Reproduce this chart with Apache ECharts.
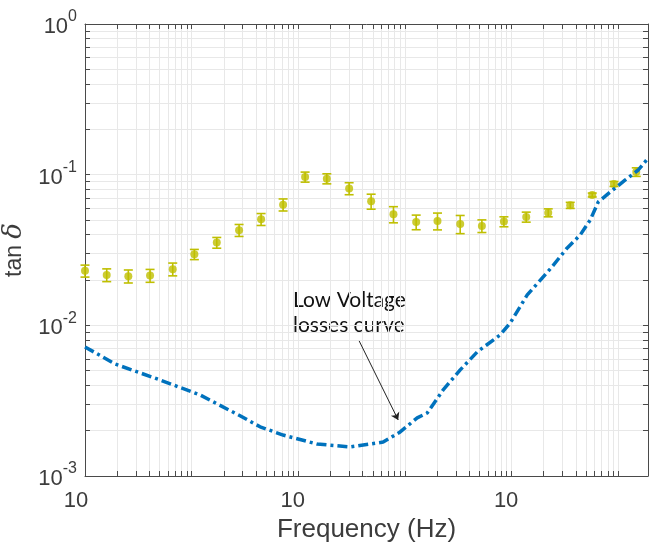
<!DOCTYPE html>
<html>
<head>
<meta charset="utf-8">
<script src="https://cdn.jsdelivr.net/npm/echarts@6/dist/echarts.min.js"></script>
<style>
html, body { margin: 0; padding: 0; background: #fff; }
#show { width: 649px; height: 550px; }
</style>
</head>
<body>
<div id="show"></div>
<script>
var myChart = echarts.init(document.getElementById('show'));

// measured tan delta (yellow dots) with error bars
var freq = [0.01, 0.01598, 0.02548, 0.04073, 0.06646, 0.1060, 0.1720, 0.2784, 0.4478, 0.7202,
    1.158, 1.851, 2.996, 4.818, 7.801, 12.74, 20.18, 32.95, 52.64, 84.68,
    137.1, 220.4, 354.5, 570.3, 911.3, 1475];
var tanDelta = [0.0230, 0.0216, 0.0212, 0.0214, 0.0236, 0.0296, 0.0354, 0.0428, 0.0506, 0.0632,
    0.0966, 0.0941, 0.0810, 0.0666, 0.0546, 0.0485, 0.0493, 0.0471, 0.0457, 0.0488,
    0.0524, 0.0559, 0.0626, 0.0733, 0.0868, 0.1042];
var tanDeltaErr = [0.0021, 0.0021, 0.0021, 0.0021, 0.0023, 0.0023, 0.0029, 0.0039, 0.0046, 0.0058,
    0.0074, 0.0072, 0.0074, 0.0076, 0.0067, 0.0054, 0.0063, 0.0065, 0.0044, 0.0037,
    0.0040, 0.0034, 0.0029, 0.0022, 0.0033, 0.0068];

// low voltage losses curve (blue dash-dot)
var lvFreq = [0.01, 0.01911, 0.05054, 0.1199, 0.2844, 0.4383, 0.7202, 1.501, 3.062, 6.246,
    9.017, 13.02, 16.16, 22.82, 32.95, 47.57, 78.19, 97.0, 140.1, 230.2,
    332.3, 440.0, 546.2, 649.2, 841.3, 1163, 1540, 1911];
var lvLoss = [0.00719, 0.00554, 0.00434, 0.00345, 0.00251, 0.00212, 0.00187, 0.00163, 0.00156, 0.00168,
    0.00196, 0.00243, 0.00262, 0.00373, 0.00506, 0.00666, 0.00864, 0.01037, 0.01591, 0.02367,
    0.03263, 0.03980, 0.05006, 0.06589, 0.07677, 0.09222, 0.1074, 0.1291];

var xMin = 0.01, xMax = 1900;
var yMin = 0.001, yMax = 1;

function logTicks(lo, hi, max) {
    var t = [];
    for (var e = lo; e < hi; e++) {
        for (var m = 1; m < 10; m++) t.push(+(m * Math.pow(10, e)).toPrecision(3));
    }
    t.push(Math.pow(10, hi));
    return t.filter(function (v) { return v <= max; });
}
var xTicks = logTicks(-2, 3, xMax);
var yTicks = logTicks(-3, 0, yMax);

var font = 'Liberation Sans, Helvetica, Arial, sans-serif';
var axisColor = '#4a4a4a';
var textColor = '#3c3c3c';
var dotColor = '#bfbf00';

function expOf(v) {
    var l = Math.log10(v), e = Math.round(l);
    return Math.abs(l - e) < 1e-6 ? e : null;
}

function makeX(idx) {
    var a = {
        type: 'log', logBase: 10, min: xMin, max: xMax, gridIndex: 0,
        position: idx === 1 ? 'top' : 'bottom',
        axisLine: { show: idx !== 2, onZero: false, lineStyle: { color: axisColor, width: 1 } },
        axisTick: { show: idx !== 2, inside: true, length: 5, customValues: xTicks, lineStyle: { color: axisColor } },
        axisLabel: { show: false },
        splitLine: { show: false }
    };
    if (idx === 0) {
        a.splitLine = { show: true, lineStyle: { color: '#e0e0e0', type: [2, 3], width: 1 } };
        a.axisLabel = {
            show: true, margin: 14, color: textColor, fontFamily: font, fontSize: 22,
            formatter: function (v) {
                var e = expOf(v);
                if (e === null || e % 2 !== 0) return '';
                return e < 0 ? '{w|10}' : '{n|10}';
            },
            rich: {
                w: { fontSize: 22, fontFamily: font, color: textColor, padding: [0, 18, 0, 0] },
                n: { fontSize: 22, fontFamily: font, color: textColor, padding: [0, 11, 0, 0] }
            }
        };
        a.name = 'Frequency (Hz)';
        a.nameLocation = 'middle';
        a.nameGap = 38;
        a.nameTextStyle = { color: textColor, fontFamily: font, fontSize: 26 };
    }
    if (idx === 2) {
        a.splitLine = { show: true, lineStyle: { color: '#e8e8e8', width: 1 } };
    }
    return a;
}

function makeY(idx) {
    var a = {
        type: 'log', logBase: 10, min: yMin, max: yMax, gridIndex: 0,
        position: idx === 1 ? 'right' : 'left',
        axisLine: { show: idx !== 2, onZero: false, lineStyle: { color: axisColor, width: 1 } },
        axisTick: { show: idx !== 2, inside: true, length: 5, customValues: yTicks, lineStyle: { color: axisColor } },
        axisLabel: { show: false },
        splitLine: { show: false }
    };
    if (idx === 0) {
        a.splitLine = { show: true, lineStyle: { color: '#e0e0e0', type: [2, 3], width: 1 } };
        a.axisLabel = {
            show: true, margin: 8, color: textColor, fontFamily: font,
            formatter: function (v) {
                var e = expOf(v);
                if (e === null) return '';
                return '{b|10}{s|' + e + '}';
            },
            rich: {
                b: { fontSize: 22, fontFamily: font, color: textColor, padding: [6, 0, 0, 0] },
                s: { fontSize: 16, fontFamily: font, color: textColor, padding: [0, 0, 14, 0] }
            }
        };
        a.name = '{n|tan }{d|δ}';
        a.nameLocation = 'middle';
        a.nameRotate = 90;
        a.nameGap = 52;
        a.nameTextStyle = {
            rich: {
                n: { fontSize: 23, fontFamily: font, color: textColor },
                d: { fontSize: 26, fontFamily: 'DejaVu Serif, serif', fontStyle: 'italic', color: textColor }
            }
        };
    }
    if (idx === 2) {
        a.splitLine = { show: true, lineStyle: { color: '#e8e8e8', width: 1 } };
    }
    return a;
}

var errData = freq.map(function (f, i) {
    return [f, tanDelta[i] - tanDeltaErr[i], tanDelta[i] + tanDeltaErr[i]];
});
var dotData = freq.map(function (f, i) { return [f, tanDelta[i]]; });
var lvData = lvFreq.map(function (f, i) { return [f, lvLoss[i]]; });

myChart.setOption({
    animation: false,
    backgroundColor: '#fff',
    grid: { left: 85, right: 1, top: 24, bottom: 74, containLabel: false, outerBoundsMode: 'none' },
    xAxis: [makeX(0), makeX(1), makeX(2)],
    yAxis: [makeY(0), makeY(1), makeY(2)],
    graphic: [{
        type: 'text', left: 293, top: 288, silent: true,
        style: {
            text: 'Low Voltage\nlosses curve', fill: '#111',
            font: '21px Lato, "Open Sans", sans-serif', lineHeight: 25
        }
    }],
    series: [
        {
            type: 'custom',
            xAxisIndex: 0, yAxisIndex: 0,
            data: errData,
            encode: { x: 0, y: [1, 2] },
            renderItem: function (params, api) {
                var x = api.value(0);
                var top = api.coord([x, api.value(2)]);
                var bot = api.coord([x, api.value(1)]);
                var hw = 4.5;
                var st = { stroke: dotColor, lineWidth: 1.6 };
                return {
                    type: 'group',
                    children: [
                        { type: 'line', shape: { x1: top[0], y1: top[1], x2: bot[0], y2: bot[1] }, style: st },
                        { type: 'line', shape: { x1: top[0] - hw, y1: top[1], x2: top[0] + hw, y2: top[1] }, style: st },
                        { type: 'line', shape: { x1: bot[0] - hw, y1: bot[1], x2: bot[0] + hw, y2: bot[1] }, style: st }
                    ]
                };
            },
            z: 3
        },
        {
            type: 'scatter',
            xAxisIndex: 0, yAxisIndex: 0,
            data: dotData,
            symbol: 'circle',
            symbolSize: 8,
            itemStyle: { color: dotColor },
            z: 4
        },
        {
            type: 'line',
            xAxisIndex: 0, yAxisIndex: 0,
            data: lvData,
            showSymbol: false,
            smooth: false,
            lineStyle: { color: '#0072bd', width: 3.5, type: [10, 4, 3, 4] },
            z: 5,
            markLine: {
                silent: true,
                symbol: ['none', 'arrow'],
                symbolSize: 7,
                label: { show: false },
                lineStyle: { color: '#222', width: 1, type: 'solid' },
                data: [[{ coord: [3.72, 0.00788] }, { coord: [8.64, 0.002357] }]]
            }
        }
    ]
});
</script>
</body>
</html>
